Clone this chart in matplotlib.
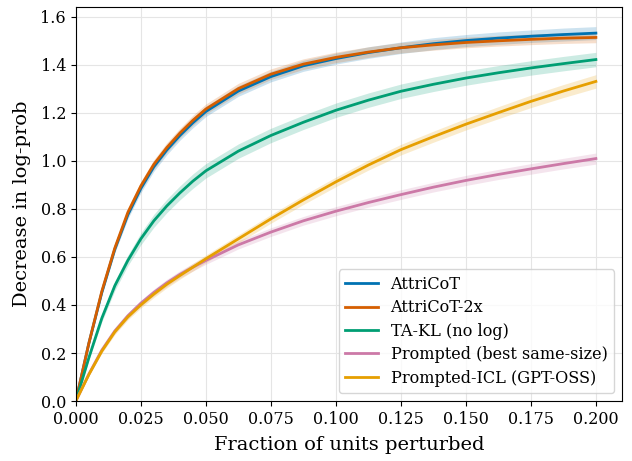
import numpy as np
import matplotlib
matplotlib.use("Agg")
import matplotlib.pyplot as plt

x = [0, 0.005, 0.01, 0.015, 0.02, 0.025, 0.03, 0.035, 0.04, 0.045, 0.05,
     0.0625, 0.075, 0.0875, 0.1, 0.1125, 0.125, 0.1375, 0.15, 0.1625, 0.175, 0.1875, 0.2]

attricot = [0, 0.24, 0.452, 0.632, 0.775, 0.885, 0.975, 1.045, 1.105, 1.158, 1.205,
            1.29, 1.35, 1.395, 1.425, 1.45, 1.47, 1.487, 1.50, 1.51, 1.518, 1.525, 1.531]
attricot_2x = [0, 0.24, 0.457, 0.637, 0.785, 0.895, 0.985, 1.055, 1.115, 1.168, 1.215,
               1.30, 1.36, 1.402, 1.43, 1.452, 1.47, 1.482, 1.492, 1.499, 1.505, 1.51, 1.513]
ta_kl = [0, 0.18, 0.345, 0.48, 0.585, 0.675, 0.75, 0.812, 0.866, 0.915, 0.958,
         1.04, 1.105, 1.16, 1.21, 1.252, 1.289, 1.318, 1.344, 1.366, 1.386, 1.404, 1.421]
prompted = [0, 0.112, 0.212, 0.292, 0.355, 0.407, 0.452, 0.492, 0.527, 0.557, 0.585,
            0.65, 0.703, 0.75, 0.79, 0.826, 0.859, 0.89, 0.918, 0.943, 0.966, 0.988, 1.009]
prompted_icl = [0, 0.11, 0.208, 0.288, 0.35, 0.40, 0.445, 0.486, 0.522, 0.557, 0.592,
                0.675, 0.758, 0.837, 0.912, 0.982, 1.046, 1.10, 1.152, 1.20, 1.247, 1.29, 1.33]

band_attricot = [0, 0.008, 0.012, 0.015, 0.017, 0.018, 0.019, 0.02, 0.02, 0.021, 0.021,
                 0.022, 0.022, 0.023, 0.023, 0.024, 0.024, 0.025, 0.025, 0.026, 0.026, 0.027, 0.027]
band_attricot_2x = [0, 0.008, 0.012, 0.015, 0.017, 0.018, 0.019, 0.02, 0.02, 0.021, 0.021,
                    0.022, 0.022, 0.022, 0.022, 0.022, 0.022, 0.022, 0.022, 0.022, 0.022, 0.022, 0.022]
band_ta_kl = [0, 0.01, 0.015, 0.02, 0.022, 0.025, 0.027, 0.028, 0.029, 0.03, 0.03,
              0.03, 0.03, 0.03, 0.03, 0.03, 0.03, 0.03, 0.03, 0.03, 0.03, 0.03, 0.03]
band_prompted = [0, 0.006, 0.009, 0.011, 0.012, 0.013, 0.014, 0.015, 0.015, 0.016, 0.016,
                 0.017, 0.018, 0.018, 0.019, 0.019, 0.02, 0.02, 0.021, 0.021, 0.022, 0.022, 0.023]
band_prompted_icl = [0, 0.006, 0.009, 0.011, 0.012, 0.013, 0.014, 0.015, 0.015, 0.016, 0.016,
                     0.017, 0.018, 0.019, 0.02, 0.021, 0.022, 0.023, 0.024, 0.025, 0.026, 0.027, 0.028]

labels = ["AttriCoT", "AttriCoT-2x", "TA-KL (no log)", "Prompted (best same-size)", "Prompted-ICL (GPT-OSS)"]
colors = ["#0072B2", "#D55E00", "#009E73", "#CC79A7", "#E69F00"]
series = [attricot, attricot_2x, ta_kl, prompted, prompted_icl]
bands = [band_attricot, band_attricot_2x, band_ta_kl, band_prompted, band_prompted_icl]

plt.rcParams['font.family'] = ['DejaVu Serif']
fig, ax = plt.subplots(figsize=(6.32, 4.61), dpi=100)
xa = np.array(x)
for lab, c, y, b in zip(labels, colors, series, bands):
    y = np.array(y); b = np.array(b)
    ax.fill_between(xa, y - b, y + b, color=c, alpha=0.2, linewidth=0)
    ax.plot(xa, y, color=c, lw=2, label=lab)

ax.set_xlim(0, 0.21)
ax.set_ylim(0, 1.64)
ax.set_xticks(np.arange(0, 0.2001, 0.025))
ax.set_yticks(np.arange(0, 1.601, 0.2))
ax.xaxis.set_major_formatter(matplotlib.ticker.FormatStrFormatter('%.3f'))
ax.yaxis.set_major_formatter(matplotlib.ticker.FormatStrFormatter('%.1f'))
ax.tick_params(labelsize=11.5)
ax.grid(True, color='#e5e5e5', lw=0.8)
ax.set_axisbelow(True)
ax.set_xlabel("Fraction of units perturbed", fontsize=14, labelpad=6)
ax.set_ylabel("Decrease in log-prob", fontsize=14, labelpad=7)
ax.legend(loc='lower right', fontsize=11.6, labelspacing=0.4)
fig.subplots_adjust(left=0.12, right=0.984, top=0.985, bottom=0.13)
fig.savefig("out.png", dpi=100)
